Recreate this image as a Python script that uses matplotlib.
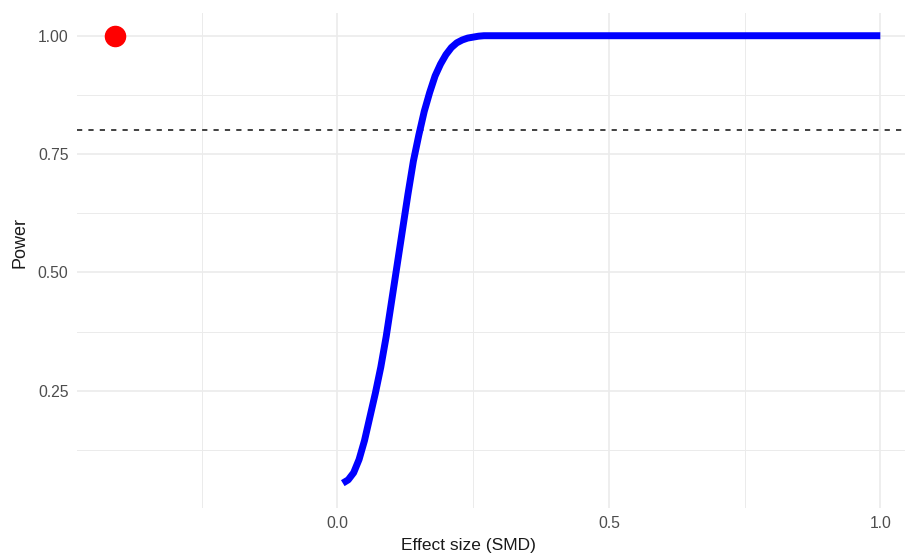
import matplotlib
matplotlib.use("Agg")
import matplotlib.pyplot as plt

plt.rcParams['font.family'] = ['Liberation Sans', 'DejaVu Sans']

# power curve
effect_size = [0.01, 0.02, 0.03, 0.04, 0.05, 0.06, 0.07, 0.08, 0.09, 0.10,
               0.11, 0.12, 0.13, 0.14, 0.15, 0.16, 0.17, 0.18, 0.19, 0.20,
               0.21, 0.22, 0.23, 0.24, 0.25, 0.26, 0.27, 0.30, 0.50, 1.00]
power = [0.055, 0.062, 0.077, 0.105, 0.145, 0.195, 0.245, 0.300, 0.365, 0.440,
         0.515, 0.590, 0.665, 0.735, 0.790, 0.840, 0.880, 0.915, 0.940, 0.960,
         0.975, 0.985, 0.991, 0.995, 0.997, 0.999, 1.000, 1.000, 1.000, 1.000]

# observed point
obs_x = [-0.41]
obs_y = [1.0]
target_power = 0.8

fig = plt.figure(figsize=(9.05, 5.58), dpi=100)
ax = fig.add_axes([0.0848, 0.0896, 0.9152, 0.8867])

ax.plot(effect_size, power, color="#0000FF", lw=5, solid_capstyle="butt", zorder=3)
ax.plot(obs_x, obs_y, "o", color="#FF0000", markersize=14.5, zorder=4)
ax.axhline(target_power, color="#333333", lw=1.3, ls=(0, (2.9, 3.4)), zorder=2)

ax.set_xlim(-0.48, 1.0455)
ax.set_ylim(0.0025, 1.0475)
ax.set_xticks([0.0, 0.5, 1.0])
ax.set_xticklabels(["0.0", "0.5", "1.0"])
ax.set_yticks([0.25, 0.50, 0.75, 1.00])
ax.set_yticklabels(["0.25", "0.50", "0.75", "1.00"])
ax.set_xticks([-0.25, 0.25, 0.75], minor=True)
ax.set_yticks([0.125, 0.375, 0.625, 0.875], minor=True)

ax.grid(which="major", color="#EBEBEB", lw=1.2)
ax.grid(which="minor", color="#EBEBEB", lw=0.7)
ax.set_axisbelow(True)
for s in ax.spines.values():
    s.set_visible(False)
ax.tick_params(which="both", length=0)
ax.tick_params(axis="both", labelsize=11.3, labelcolor="#4D4D4D", pad=6)

ax.set_xlabel("Effect size (SMD)", fontsize=12.5, color="#1A1A1A")
ax.xaxis.set_label_coords(0.473, -0.06)
ax.xaxis.label.set_va("top")
ax.set_ylabel("Power", fontsize=13, color="#1A1A1A")
ax.yaxis.label.set_va("center")
ax.yaxis.set_label_coords(-0.0688, 0.537)

fig.savefig("out.png", dpi=100)
